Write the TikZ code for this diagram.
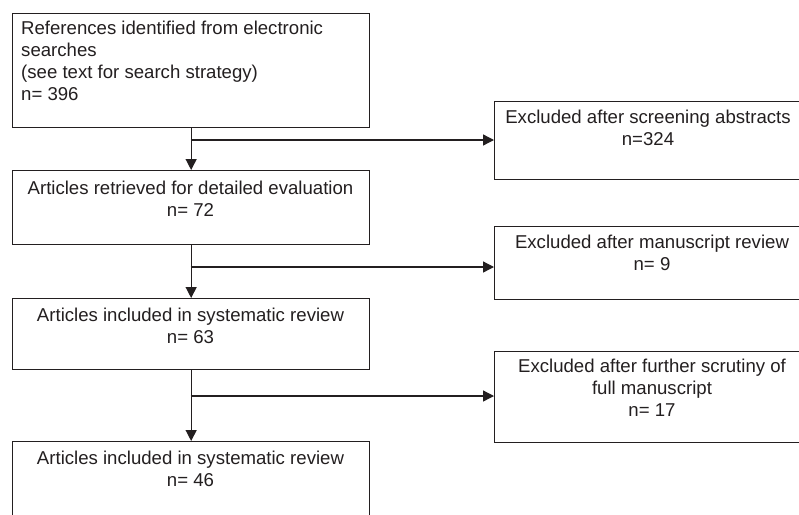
\documentclass[tikz,border=0pt]{standalone}
\usepackage{fontspec}
\setmainfont{Liberation Sans}
\usetikzlibrary{arrows.meta}
\definecolor{ink}{HTML}{231F20}
\begin{document}
\begin{tikzpicture}[x=1pt,y=-1pt,
  box/.style={draw=ink, line width=1.3pt, rectangle, inner sep=0pt, anchor=north west},
  txt/.style={text=ink, inner sep=0pt, font=\fontsize{18.6}{21.7}\selectfont},
  link/.style={draw=ink, line width=1.3pt},
  arr/.style={link, -{Triangle[length=11pt,width=11pt]}}]
\useasboundingbox (0,0) rectangle (799,514);
\fill[white] (0,0) rectangle (799,514);
\clip (0,0) rectangle (799,514);
% left column boxes
\node[box, minimum width=357pt, minimum height=114pt] (b1) at (12,13) {};
\node[box, minimum width=357pt, minimum height=74pt] (b2) at (12,170) {};
\node[box, minimum width=357pt, minimum height=71pt] (b3) at (12,298) {};
\node[box, minimum width=357pt, minimum height=100pt] (b4) at (12,441) {};
% right column boxes
\node[box, minimum width=310pt, minimum height=78pt] (r1) at (494,101) {};
\node[box, minimum width=310pt, minimum height=73pt] (r2) at (494,226) {};
\node[box, minimum width=310pt, minimum height=91pt] (r3) at (494,351) {};
% texts (anchor = baseline of the last line)
\node[txt, anchor=base west, align=left] (t1) at (21,100) {References identified from electronic\\searches\\(see text for search strategy)\\n= 396};
\node[txt, anchor=base, align=center] (t2) at (190.5,216.5) {Articles retrieved for detailed evaluation\\n= 72};
\node[txt, anchor=base, align=center] (t3) at (190.5,343.5) {Articles included in systematic review\\n= 63};
\node[txt, anchor=base, align=center] (t4) at (190.5,486.5) {Articles included in systematic review\\n= 46};
\node[txt, anchor=base, align=center] (u1) at (648,145) {Excluded after screening abstracts\\n=324};
\node[txt, anchor=base, align=center] (u2) at (652,270) {Excluded after manuscript review\\n= 9};
\node[txt, anchor=base, align=center] (u3) at (652,416) {Excluded after further scrutiny of\\full manuscript\\n= 17};
% junctions
\coordinate (j1) at (190.5,140);
\coordinate (j2) at (190.5,267);
\coordinate (j3) at (190.5,396);
% connectors
\draw[arr] (b1.south) -- (b2.north);
\draw[arr] (b2.south) -- (b3.north);
\draw[arr] (b3.south) -- (b4.north);
\draw[arr] (j1) -- (j1 -| r1.west);
\draw[arr] (j2) -- (j2 -| r2.west);
\draw[arr] (j3) -- (j3 -| r3.west);
\end{tikzpicture}
\end{document}
